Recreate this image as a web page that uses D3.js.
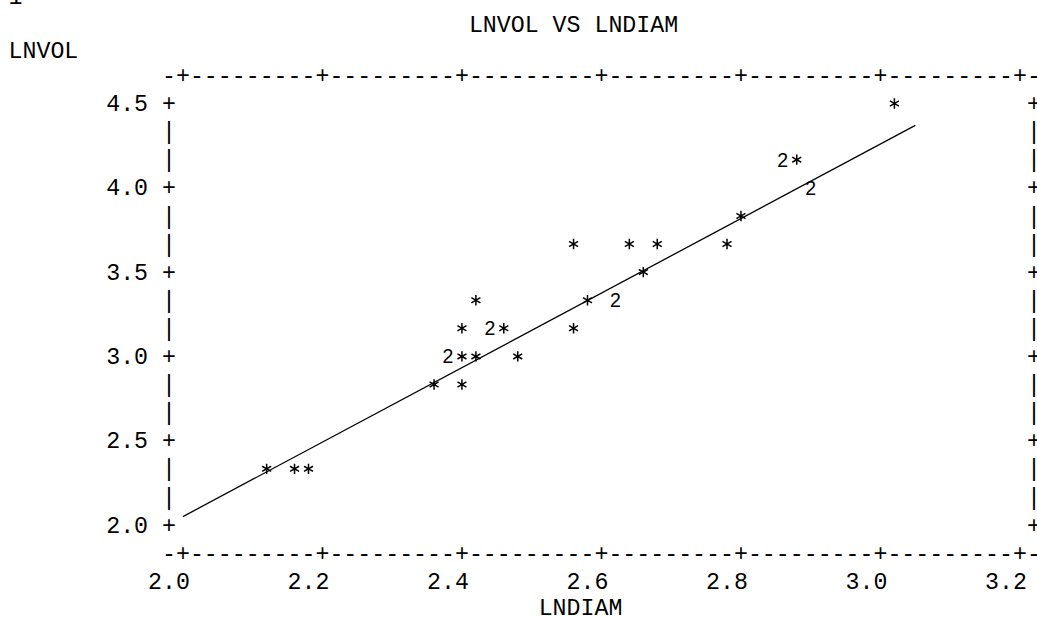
<!DOCTYPE html>
<html>
<head>
<meta charset="utf-8">
<script src="https://cdn.jsdelivr.net/npm/d3@7"></script>
<style>
  html, body { margin: 0; padding: 0; background: #fff; }
  svg { display: block; }
  .mono { font-family: "Liberation Mono", "DejaVu Sans Mono", monospace; font-size: 23.25px; fill: #000; }
  .mark { font-family: "Liberation Sans", Arial, sans-serif; font-size: 19.5px; fill: #000; }
</style>
</head>
<body>
<svg id="chart"></svg>
<script>
const title = "LNVOL VS LNDIAM";
const xLabel = "LNDIAM";
const yLabel = "LNVOL";
const pageNo = "1";
const xTicks = [2.0, 2.2, 2.4, 2.6, 2.8, 3.0, 3.2];
const yTicks = [2.0, 2.5, 3.0, 3.5, 4.0, 4.5];

// printer cells, "2" = two trees in one cell
const lndiam = [3.02, 2.86, 2.88, 2.90, 2.80, 2.56, 2.64, 2.68, 2.78, 2.66,
  2.42, 2.58, 2.62, 2.40, 2.44, 2.46, 2.56, 2.38, 2.40, 2.42, 2.48,
  2.36, 2.40, 2.12, 2.16, 2.18];
const lnvol = [4.5, 4.167, 4.167, 4.0, 3.833, 3.667, 3.667, 3.667, 3.667, 3.5,
  3.333, 3.333, 3.333, 3.167, 3.167, 3.167, 3.167, 3.0, 3.0, 3.0, 3.0,
  2.833, 2.833, 2.333, 2.333, 2.333];
const symbol = ["*", "2", "*", "2", "*", "*", "*", "*", "*", "*",
  "*", "*", "2", "*", "2", "*", "*", "2", "*", "*", "*",
  "*", "*", "*", "*", "*"];

// fitted line end points
const fitX = [2.0, 3.05];
const fitY = [2.05, 4.37];

const width = 1037;
const height = 617;
const cw = 13.95;   // printer column width
const rh = 28.1;    // printer row height
const col0 = 169;   // column of the left axis

const svg = d3.select("#chart").attr("width", width).attr("height", height);

const x = d3.scaleLinear().domain([2.0, 3.2]).range([col0 + cw, col0 + 61 * cw]);
const y = d3.scaleLinear().domain([2.0, 4.5]).range([525, 525 - 15 * rh]);
const colX = (k) => col0 + k * cw;

const topY = y(4.5) - rh;
const botY = y(2.0) + rh;

// put a string on the printer grid, one cell per character
function put(str, k, yy) {
  svg.append("g")
    .selectAll("text")
    .data(str.split(""))
    .join("text")
    .attr("class", "mono")
    .attr("x", (d, i) => colX(k + i))
    .attr("y", yy)
    .attr("dy", "0.33em")
    .attr("text-anchor", "middle")
    .text((d) => d);
}

// frame top and bottom
const tickCols = xTicks.map((t) => Math.round((x(t) - col0) / cw));
const border = d3.range(0, 63).map((k) => (tickCols.includes(k) ? "+" : "-")).join("");
put(border, 0, topY);
put(border, 0, botY);

// left and right frame
const rows = d3.range(0, 16);
rows.forEach((r) => {
  const ch = r % 3 === 0 ? "+" : "|";
  const yy = y(2.0) - r * rh;
  put(ch, 0, yy);
  put(ch, 62, yy);
});

// tick labels
yTicks.forEach((t) => put(d3.format(".1f")(t), -4, y(t)));
xTicks.forEach((t) => {
  const k = Math.round((x(t) - col0) / cw);
  put(d3.format(".1f")(t), k - 2, botY + rh);
});

// titles
put(pageNo, -11, -4);
put(title, 22, 24);
put(yLabel, -11, 50);
put(xLabel, 27, botY + 2 * rh - 2);

// fitted line
svg.append("path")
  .datum(d3.zip(fitX, fitY))
  .attr("fill", "none")
  .attr("stroke", "#000")
  .attr("stroke-width", 1.3)
  .attr("d", d3.line().x((d) => x(d[0])).y((d) => y(d[1])));

// plotted points
const pts = lndiam.map((v, i) => ({ x: v, y: lnvol[i], s: symbol[i] }));

const stars = pts.filter((d) => d.s === "*");
if (d3.symbolAsterisk) {
  svg.append("g")
    .selectAll("path")
    .data(stars)
    .join("path")
    .attr("transform", (d) => `translate(${x(d.x)},${y(d.y)})`)
    .attr("d", d3.symbol(d3.symbolAsterisk, 76))
    .attr("fill", "none")
    .attr("stroke", "#000")
    .attr("stroke-width", 1.5);
} else {
  svg.append("g")
    .selectAll("text")
    .data(stars)
    .join("text")
    .attr("class", "mark")
    .attr("x", (d) => x(d.x))
    .attr("y", (d) => y(d.y))
    .attr("dy", "0.55em")
    .attr("text-anchor", "middle")
    .text("*");
}

svg.append("g")
  .selectAll("text")
  .data(pts.filter((d) => d.s !== "*"))
  .join("text")
  .attr("class", "mark")
  .attr("x", (d) => x(d.x))
  .attr("y", (d) => y(d.y))
  .attr("dy", "0.36em")
  .attr("text-anchor", "middle")
  .text((d) => d.s);
</script>
</body>
</html>
